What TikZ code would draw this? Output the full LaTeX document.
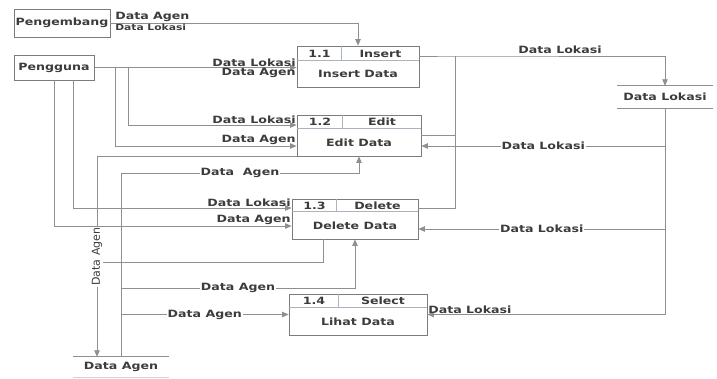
\documentclass[tikz,border=0pt]{standalone}
\usepackage{fontspec}
\setmainfont{DejaVu Sans}[FakeStretch=1.26]
\newfontfamily\plainfont{DejaVu Sans}
\usetikzlibrary{arrows.meta, positioning, calc}
\definecolor{dfdLine}{HTML}{8F8F8F}
\definecolor{dfdBox}{HTML}{7C7C7C}
\definecolor{dfdDiv}{HTML}{A9B4BF}
\definecolor{dfdText}{HTML}{3C3C3C}

\begin{document}
\begin{tikzpicture}[
  x=1pt, y=-1pt,
  font=\fontsize{10}{12}\selectfont\bfseries, text=dfdText,
  ext/.style={draw=dfdBox, line width=0.8pt, minimum width=96pt,
              minimum height=28pt, inner sep=0pt},
  proc/.style={draw=dfdBox, line width=0.8pt, minimum height=41pt, inner sep=0pt},
  div/.style={draw=dfdDiv, line width=0.6pt},
  store/.style={minimum width=96pt, minimum height=22pt, inner sep=0pt},
  ln/.style={draw=dfdLine, line width=0.8pt},
  a/.style={ln, -{Triangle[length=6.5pt, width=5.5pt]}},
  lbl/.style={inner sep=0.5pt},
  onl/.style={fill=white, inner sep=1pt}
]
\useasboundingbox (0,0) rectangle (717,378);

% external entities
\node[ext] (pengembang) at (62,23) {Pengembang};
\node[ext, minimum width=80pt, minimum height=25pt] (pengguna) at (54,67.5) {Pengguna};

% processes
\node[proc, minimum width=122pt] (insert) at (358,66.5) {};
\node[proc, minimum width=124pt] (edit) at (359,135.5) {};
\node[proc, minimum width=126pt, minimum height=40pt] (delete) at (355,219) {};
\node[proc, minimum width=138pt] (select) at (358,314.5) {};

\draw[div] ([yshift=-15pt]insert.north west) -- ([yshift=-15pt]insert.north east);
\draw[div] ([xshift=45pt]insert.north west) -- ([xshift=45pt,yshift=-15pt]insert.north west);
\draw[div] ([yshift=-14pt]edit.north west) -- ([yshift=-14pt]edit.north east);
\draw[div] ([xshift=46pt]edit.north west) -- ([xshift=46pt,yshift=-14pt]edit.north west);
\draw[div] ([yshift=-13pt]delete.north west) -- ([yshift=-13pt]delete.north east);
\draw[div] ([xshift=45pt]delete.north west) -- ([xshift=45pt,yshift=-13pt]delete.north west);
\draw[div] ([yshift=-14pt]select.north west) -- ([yshift=-14pt]select.north east);
\draw[div] ([xshift=50pt]select.north west) -- ([xshift=50pt,yshift=-14pt]select.north west);

\node (insertno) at (319.5,53.5) {1.1};
\node (insertname) at (380.5,53.5) {Insert};
\node (insertbody) at (358,74) {Insert Data};
\node (editno) at (320,122) {1.2};
\node (editname) at (382,122) {Edit};
\node (editbody) at (359,142.5) {Edit Data};
\node (deleteno) at (314.5,205.5) {1.3};
\node (deletename) at (377.5,205.5) {Delete};
\node (deletebody) at (355,225.5) {Delete Data};
\node (selectno) at (314,301) {1.4};
\node (selectname) at (383,301) {Select};
\node (selectbody) at (358,321.5) {Lihat Data};

% data stores
\node[store] (datalokasi) at (665,97) {Data Lokasi};
\draw[ln] (datalokasi.north west) -- (datalokasi.north east);
\draw[ln] (datalokasi.south west) -- (datalokasi.south east);
\node[store, minimum width=95pt, minimum height=20pt] (dataagen) at (121,367) {Data Agen};
\draw[ln] (dataagen.north west) -- (dataagen.north east);
\draw[ln, draw=dfdLine!40] (dataagen.south west) -- (dataagen.south east);

% pengembang and pengguna
\draw[a] (pengembang.east) -| (insert.north)
  node[lbl, pos=0, anchor=south west, xshift=4pt] {Data Agen}
  node[lbl, pos=0, anchor=north west, xshift=4pt,
       font=\fontsize{8.5}{10}\selectfont\bfseries] {Data Lokasi};
\draw[a] (pengguna.east) -- (pengguna.east -| insert.west)
  node[lbl, pos=1, anchor=south east] {Data Lokasi}
  node[lbl, pos=1, anchor=north east] {Data Agen};
\draw[a] ([xshift=34pt]pengguna.east) |- ([yshift=10.5pt]edit.west)
  node[lbl, pos=1, anchor=south east] {Data Lokasi};
\draw[a] ([xshift=21pt]pengguna.east) |- ([yshift=-10.5pt]edit.west)
  node[lbl, pos=1, anchor=south east] {Data Agen};
\draw[a] ([xshift=19pt]pengguna.south) |- ([yshift=11pt]delete.west)
  node[lbl, pos=1, anchor=south east] {Data Lokasi};
\draw[a] (pengguna.south) |- ([yshift=-7pt]delete.west)
  node[lbl, pos=1, anchor=south east] {Data Agen};

% to and from data lokasi
\coordinate (lokasiin) at (455,56);
\draw[a] ([yshift=10.5pt]insert.east) -- (lokasiin) -| (datalokasi.north)
  node[lbl, pos=0.25, anchor=south, yshift=1pt] {Data Lokasi};
\draw[ln] (edit.east) -| (lokasiin);
\draw[ln] ([yshift=11pt]delete.east) -| (lokasiin);

\coordinate (editin) at ([yshift=-10.5pt]edit.east);
\coordinate (deletein) at ([yshift=-10pt]delete.east);
\draw[a] (datalokasi.south) |- (select.east)
  node[lbl, pos=1, anchor=south west] {Data Lokasi};
\draw[a] (datalokasi.south |- editin) -- (editin) node[onl, midway] {Data Lokasi};
\draw[a] (datalokasi.south |- deletein) -- (deletein) node[onl, midway] {Data Lokasi};

% to and from data agen
\coordinate (agenin) at ([xshift=-24pt]dataagen.north);
\coordinate (delout) at ([xshift=-32pt,yshift=-23pt]delete.south);
\draw[ln] ([xshift=-32pt]delete.south) -- (delout) -- (delout -| agenin);
\draw[a] (edit.south west) -| (agenin)
  node[onl, pos=0.75, rotate=90, font=\fontsize{11}{13}\plainfont] {Data Agen};
\draw[a] (dataagen.north) |- ([yshift=-17pt]edit.south)
  node[onl, pos=0.75] {Data\ \ Agen} -- (edit.south);
\draw[a] (dataagen.north) |- ([yshift=-49pt]delete.south)
  node[onl, pos=0.75] {Data Agen} -- (delete.south);
\draw[a] (dataagen.north) |- (select.west)
  node[onl, pos=0.75] {Data Agen};

\end{tikzpicture}
\end{document}
